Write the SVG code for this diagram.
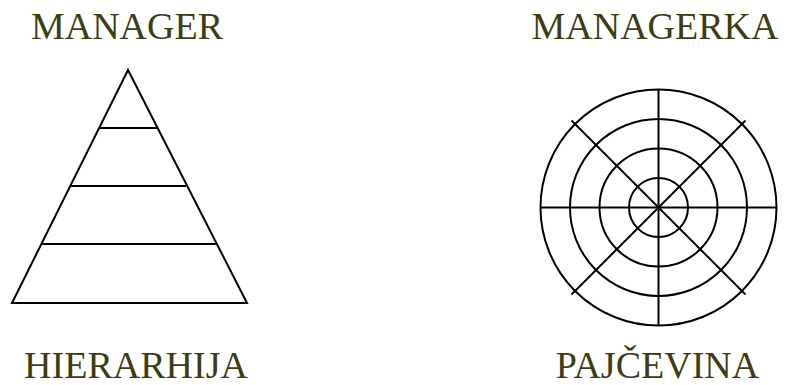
<svg xmlns="http://www.w3.org/2000/svg" width="788" height="385" viewBox="0 0 788 385">
<style>
.t{font-family:"Liberation Serif","Times New Roman",serif;font-size:38px;fill:#3d3d12;text-anchor:middle}
.s{fill:none;stroke:#000;stroke-width:2}
</style>
<rect width="788" height="385" fill="#fff"/>
<g id="hierarhija">
<text class="t" x="127" y="39">MANAGER</text>
<polygon class="s" points="128,70 12,303 247,303"/>
<line class="s" x1="99" y1="128" x2="157" y2="128"/>
<line class="s" x1="70" y1="186" x2="186" y2="186"/>
<line class="s" x1="41" y1="244" x2="216" y2="244"/>
<text class="t" x="136" y="378">HIERARHIJA</text>
</g>
<g id="pajcevina">
<text class="t" x="655" y="39">MANAGERKA</text>
<circle class="s" cx="658.5" cy="207.5" r="118"/>
<circle class="s" cx="658.5" cy="207.5" r="88.5"/>
<circle class="s" cx="658.5" cy="207.5" r="59"/>
<circle class="s" cx="658.5" cy="207.5" r="29.5"/>
<line class="s" x1="540.5" y1="207.5" x2="776.5" y2="207.5"/>
<line class="s" x1="658.5" y1="89.5" x2="658.5" y2="325.5"/>
<line class="s" x1="571.5" y1="120.5" x2="745.5" y2="294.5"/>
<line class="s" x1="745.5" y1="120.5" x2="571.5" y2="294.5"/>
<text class="t" x="657.5" y="378">PAJČEVINA</text>
</g>
</svg>
